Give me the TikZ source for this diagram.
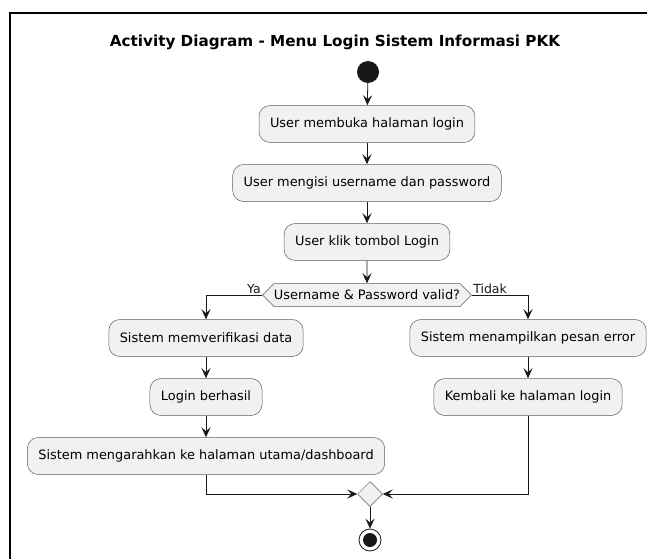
\documentclass[tikz,border=0pt]{standalone}
\usepackage{fontspec}
\setmainfont{DejaVu Sans}
\usetikzlibrary{arrows.meta,positioning,shapes.geometric,shapes.symbols}
\definecolor{actfill}{HTML}{F1F1F1}
\definecolor{actline}{HTML}{181818}

\begin{document}
\begin{tikzpicture}[x=1pt,y=-1pt,
  act/.style={rectangle,rounded corners=11pt,draw=actline!70,fill=actfill,
    line width=.5pt,minimum height=37pt,inner xsep=11pt,
    font=\fontsize{12.9}{15}\selectfont},
  decision/.style={signal,signal to=east and west,signal pointer angle=90,
    draw=actline!70,fill=actfill,line width=.5pt,minimum height=23pt,
    inner xsep=0pt,inner ysep=0pt,font=\fontsize{12.9}{15}\selectfont},
  merge/.style={diamond,draw=actline!70,fill=actfill,line width=.5pt,
    minimum size=25pt,inner sep=0pt},
  arr/.style={-{Stealth[length=10pt,width=9pt,inset=4pt]},actline,line width=.8pt},
  guard/.style={font=\fontsize{12.5}{14}\selectfont,inner sep=1pt}]
  \useasboundingbox (0,0) rectangle (647,559);
  \draw[line width=2pt] (10,559) -- (10,13) -- (647,13);
  \node[font=\fontsize{15.2}{18}\selectfont\bfseries] (title) at (335,42)
    {Activity Diagram - Menu Login Sistem Informasi PKK};
  \node[circle,fill=actline,minimum size=22pt,inner sep=0pt] (start) at (368,72) {};
  \node[act] (open) at (367,124) {User membuka halaman login};
  \node[act] (fill) at (367,183) {User mengisi username dan password};
  \node[act] (click) at (367,242) {User klik tombol Login};
  \node[decision] (valid) at (367,295) {Username \& Password valid?};
  \node[act] (verify) at (206,338) {Sistem memverifikasi data};
  \node[act] (error) at (528,338) {Sistem menampilkan pesan error};
  \node[act] (success) at (206,397) {Login berhasil};
  \node[act] (back) at (528,397) {Kembali ke halaman login};
  \node[act] (redirect) at (206,456) {Sistem mengarahkan ke halaman utama/dashboard};
  \node[merge] (join) at (370,494) {};
  \node[circle,draw=actline,line width=.8pt,fill=white,minimum size=22pt,
    inner sep=0pt] (stop) at (370,540) {};
  \fill[actline] (stop.center) circle (7pt);
  \draw[arr] (start) -- (open);
  \draw[arr] (open) -- (fill);
  \draw[arr] (fill) -- (click);
  \draw[arr] (click) -- (valid);
  \draw[arr] (valid.west) -| node[pos=0,anchor=south east,guard] {Ya} (verify);
  \draw[arr] (valid.east) -| node[pos=0,anchor=south west,guard] {Tidak} (error);
  \draw[arr] (verify) -- (success);
  \draw[arr] (success) -- (redirect);
  \draw[arr] (error) -- (back);
  \draw[arr] (redirect) |- (join);
  \draw[arr] (back) |- (join);
  \draw[arr] (join) -- (stop);
\end{tikzpicture}
\end{document}
